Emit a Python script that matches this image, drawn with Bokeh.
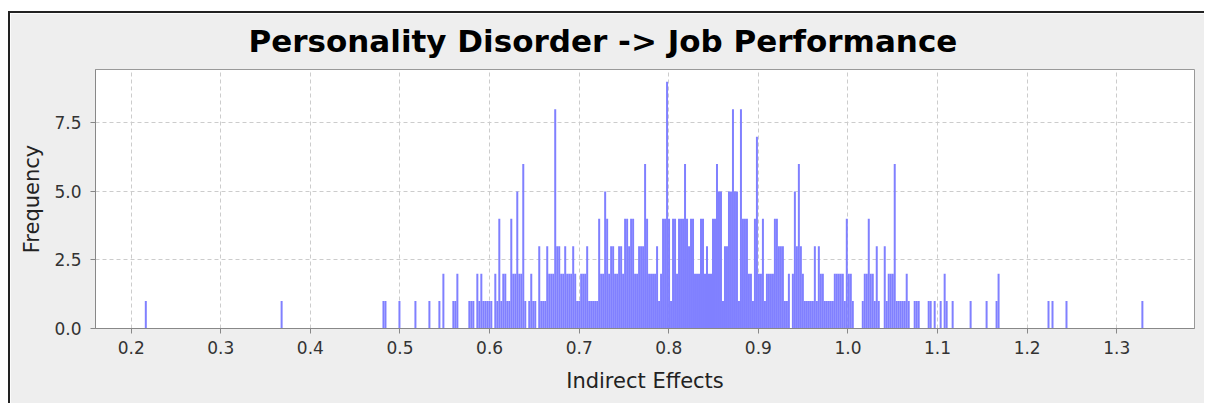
import numpy as np
from bokeh.plotting import figure
from bokeh.models import FixedTicker, NumeralTickFormatter, Range1d, ColumnDataSource
from bokeh.embed import file_html
from bokeh.resources import INLINE

title_text = "Personality Disorder -> Job Performance"
x_label = "Indirect Effects"
y_label = "Frequency"

# histogram: 500 equal-width bins starting at bin_lower
bin_lower = 0.2152
bin_width = 0.002229
counts = [
    1,0,0,0,0,0,0,0,0,0,0,0,0,0,0,0,0,0,0,0,
    0,0,0,0,0,0,0,0,0,0,0,0,0,0,0,0,0,0,0,0,
    0,0,0,0,0,0,0,0,0,0,0,0,0,0,0,0,0,0,0,0,
    0,0,0,0,0,0,0,0,1,0,0,0,0,0,0,0,0,0,0,0,
    0,0,0,0,0,0,0,0,0,0,0,0,0,0,0,0,0,0,0,0,
    0,0,0,0,0,0,0,0,0,0,0,0,0,0,0,0,0,0,0,1,
    1,0,0,0,0,0,0,1,0,0,0,0,0,0,0,1,0,0,0,0,
    0,0,1,0,0,0,0,1,0,2,0,0,0,0,1,1,2,0,0,0,
    0,0,1,1,1,0,2,1,2,1,1,1,1,1,0,2,1,4,1,2,
    2,1,1,4,2,2,5,2,2,6,1,0,1,2,1,1,0,3,1,1,
    1,3,2,2,2,8,3,3,2,2,3,2,2,2,3,2,1,1,2,2,
    2,3,1,1,1,1,1,4,2,2,5,4,2,3,3,2,2,3,3,2,
    4,4,3,4,4,2,2,3,3,3,6,4,2,2,2,2,3,1,2,4,
    4,9,4,1,4,4,2,4,4,4,6,4,3,4,4,2,2,2,4,4,
    2,3,2,2,4,4,6,5,5,1,3,3,5,5,8,5,5,1,8,4,
    4,4,2,2,1,4,7,2,2,4,1,2,2,2,2,4,4,3,3,3,
    1,1,2,0,2,5,3,6,3,2,1,1,1,1,1,3,1,3,2,2,
    1,1,1,1,1,2,2,2,2,2,1,4,2,2,1,0,0,0,0,1,
    2,2,4,2,2,1,3,1,0,0,3,1,2,2,2,6,1,1,1,1,
    1,2,1,0,0,1,1,1,0,0,0,0,1,1,0,1,0,0,1,0,
    2,1,0,0,1,0,0,0,0,0,0,0,0,1,0,0,0,0,0,0,
    0,1,0,0,0,0,1,2,0,0,0,0,0,0,0,0,0,0,0,0,
    0,0,0,0,0,0,0,0,0,0,0,0,1,0,1,0,0,0,0,0,
    0,1,0,0,0,0,0,0,0,0,0,0,0,0,0,0,0,0,0,0,
    0,0,0,0,0,0,0,0,0,0,0,0,0,0,0,0,0,0,0,1,
]
x_ticks = [0.2, 0.3, 0.4, 0.5, 0.6, 0.7, 0.8, 0.9, 1.0, 1.1, 1.2, 1.3]
y_ticks = [0.0, 2.5, 5.0, 7.5]

c = np.array(counts, dtype=float)
lefts = bin_lower + np.arange(len(c)) * bin_width
m = c > 0
src = ColumnDataSource(dict(left=lefts[m], right=lefts[m] + bin_width, top=c[m]))

x_lo, x_hi = 0.16016, 1.38676
y_lo, y_hi = 0.0, 9.45

p = figure(width=1196, height=392, output_backend="svg", toolbar_location=None,
           x_range=Range1d(x_lo, x_hi), y_range=Range1d(y_lo, y_hi),
           min_border_left=85, min_border_right=12, min_border_top=55, min_border_bottom=77)
p.styles = {"border-top": "2px solid #222222", "border-left": "2px solid #222222",
            "margin-top": "11px", "margin-left": "8px"}
p.border_fill_color = "#eeeeee"
p.background_fill_color = "white"
p.outline_line_color = "#999999"

p.quad(left="left", right="right", bottom=0, top="top", source=src,
       fill_color="#8080ff", line_color=None)

p.title.text = title_text
p.title.text_font = "DejaVu Sans"
p.title.text_font_style = "bold"
p.title.text_font_size = "31px"
p.title.text_color = "black"
p.title.align = "left"
p.title.offset = 153
p.title.standoff = 18
p.title.vertical_align = "top"

p.xaxis.ticker = FixedTicker(ticks=x_ticks)
p.yaxis.ticker = FixedTicker(ticks=y_ticks)
p.xaxis.formatter = NumeralTickFormatter(format="0.0")
p.yaxis.formatter = NumeralTickFormatter(format="0.0")
p.xgrid.ticker = FixedTicker(ticks=x_ticks)
p.ygrid.ticker = FixedTicker(ticks=y_ticks)
for g in (p.xgrid, p.ygrid):
    g.grid_line_color = "#cccccc"
    g.grid_line_dash = "4 3"
    g.grid_line_width = 1

for ax in (p.xaxis, p.yaxis):
    ax.axis_line_color = "#888888"
    ax.major_tick_line_color = "#888888"
    ax.minor_tick_line_color = None
    ax.major_tick_out = 5
    ax.major_tick_in = 0
    ax.major_label_text_font = "DejaVu Sans"
    ax.major_label_text_font_size = "17px"
    ax.major_label_text_color = "#333333"
    ax.axis_label_text_font = "DejaVu Sans"
    ax.axis_label_text_font_size = "21px"
    ax.axis_label_text_font_style = "normal"
    ax.axis_label_text_color = "#222222"

p.xaxis.axis_label = x_label
p.yaxis.axis_label = y_label
p.xaxis.major_label_standoff = 7
p.yaxis.major_label_standoff = 9
p.xaxis.axis_label_standoff = 12
p.yaxis.axis_label_standoff = 7

open("out.html", "w").write(file_html(p, INLINE))
